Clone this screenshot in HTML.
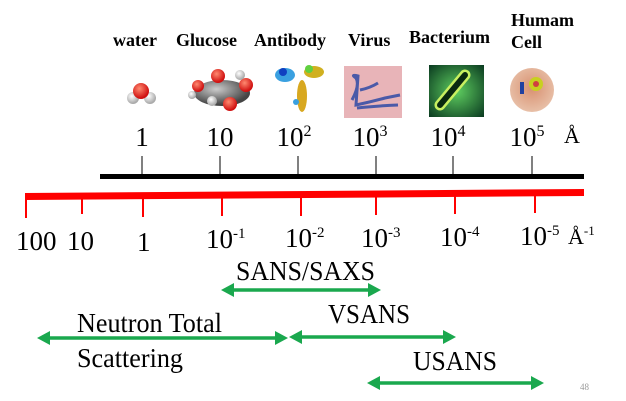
<!DOCTYPE html>
<html><head><meta charset="utf-8"><style>
html,body{margin:0;padding:0;background:#fff;width:626px;height:401px;overflow:hidden}
svg text{font-family:"Liberation Serif","DejaVu Serif",serif !important;fill:#000}
.b{font-weight:bold;font-size:18px}
.n{font-size:27px}
</style></head><body>
<svg width="626" height="401" viewBox="0 0 626 401" xmlns="http://www.w3.org/2000/svg" font-family="Liberation Serif, serif">
<defs>
<radialGradient id="rw" cx="40%" cy="35%" r="60%"><stop offset="0" stop-color="#fff"/><stop offset="1" stop-color="#aaa"/></radialGradient>
<radialGradient id="rr" cx="40%" cy="35%" r="60%"><stop offset="0" stop-color="#ff8a70"/><stop offset="1" stop-color="#d01010"/></radialGradient>
<radialGradient id="rg" cx="40%" cy="35%" r="60%"><stop offset="0" stop-color="#ccc"/><stop offset="1" stop-color="#444"/></radialGradient>
<radialGradient id="bac" cx="50%" cy="50%" r="70%"><stop offset="0" stop-color="#5fcf60"/><stop offset="1" stop-color="#0a3a20"/></radialGradient>
<radialGradient id="cell" cx="50%" cy="45%" r="55%"><stop offset="0" stop-color="#d89070"/><stop offset="1" stop-color="#e8c0a8"/></radialGradient>
</defs>
<text class="b" x="113" y="46" font-family="Liberation Serif, serif">water</text>
<text class="b" x="176" y="46" font-family="Liberation Serif, serif">Glucose</text>
<text class="b" x="254" y="46" font-family="Liberation Serif, serif">Antibody</text>
<text class="b" x="348" y="46" font-family="Liberation Serif, serif">Virus</text>
<text class="b" x="409" y="43" font-family="Liberation Serif, serif">Bacterium</text>
<text class="b" x="511" y="26" font-family="Liberation Serif, serif">Humam</text>
<text class="b" x="511" y="48" font-family="Liberation Serif, serif">Cell</text>
<circle cx="133" cy="98" r="6" fill="url(#rw)"/><circle cx="150" cy="98" r="6" fill="url(#rw)"/>
<circle cx="141" cy="91" r="8" fill="url(#rr)"/>
<ellipse cx="222" cy="93" rx="28" ry="13" fill="url(#rg)"/>
<circle cx="218" cy="76" r="7" fill="url(#rr)"/><circle cx="246" cy="85" r="7" fill="url(#rr)"/>
<circle cx="198" cy="86" r="6" fill="url(#rr)"/><circle cx="230" cy="104" r="7" fill="url(#rr)"/>
<circle cx="212" cy="101" r="5" fill="url(#rw)"/><circle cx="240" cy="75" r="5" fill="url(#rw)"/><circle cx="192" cy="95" r="4" fill="url(#rw)"/>
<ellipse cx="285" cy="75" rx="10" ry="7" fill="#3aa0e0"/><circle cx="283" cy="72" r="4" fill="#1040c0"/>
<ellipse cx="314" cy="72" rx="10" ry="6" fill="#d0b020"/><circle cx="309" cy="69" r="4" fill="#60d040"/>
<ellipse cx="302" cy="96" rx="5" ry="16" fill="#d8a820"/><circle cx="296" cy="102" r="3" fill="#3aa0e0"/>
<rect x="344" y="66" width="58" height="52" fill="#e8b4b8"/>
<path d="M352 100 Q360 85 356 78 Q350 74 358 76 L356 105 Q370 102 385 98 Q395 96 400 95 M357 108 Q375 106 398 105 M360 90 Q370 88 378 83" stroke="#4a5aa8" stroke-width="3" fill="none"/>
<rect x="429" y="65" width="55" height="52" fill="url(#bac)"/>
<line x1="440" y1="105" x2="465" y2="75" stroke="#c8f060" stroke-width="11" stroke-linecap="round"/>
<line x1="440" y1="105" x2="465" y2="75" stroke="#0a2a10" stroke-width="6" stroke-linecap="round"/>
<ellipse cx="532" cy="90" rx="22" ry="22" fill="url(#cell)"/>
<circle cx="536" cy="84" r="7" fill="#c8d020"/><circle cx="536" cy="84" r="3" fill="#d04040"/>
<rect x="520" y="82" width="4" height="12" fill="#2040a0"/>
<g font-family="Liberation Serif, serif">
<text class="n" x="142" y="146" text-anchor="middle">1</text>
<text class="n" x="220" y="146" text-anchor="middle">10</text>
<text class="n" x="294" y="146" text-anchor="middle">10<tspan font-size="16" dy="-10">2</tspan></text>
<text class="n" x="370" y="146" text-anchor="middle">10<tspan font-size="16" dy="-10">3</tspan></text>
<text class="n" x="448" y="146" text-anchor="middle">10<tspan font-size="16" dy="-10">4</tspan></text>
<text class="n" x="527" y="146" text-anchor="middle">10<tspan font-size="16" dy="-10">5</tspan></text>
<text x="564" y="143" font-size="22">Å</text>
</g>
<g stroke="#555" stroke-width="1.5">
<line x1="142" y1="156" x2="142" y2="176"/><line x1="220" y1="156" x2="220" y2="176"/><line x1="298" y1="156" x2="298" y2="176"/>
<line x1="376" y1="156" x2="376" y2="176"/><line x1="453" y1="156" x2="453" y2="176"/><line x1="532" y1="156" x2="532" y2="176"/>
</g>
<rect x="100" y="174" width="484" height="5" fill="#000"/>
<polygon points="25,193 584,189 584,196 25,200" fill="#f00"/>
<g stroke="#f00" stroke-width="2">
<line x1="26" y1="198" x2="26" y2="218"/><line x1="82" y1="198" x2="82" y2="214"/><line x1="143" y1="198" x2="143" y2="217"/>
<line x1="222" y1="197" x2="222" y2="216"/><line x1="301" y1="196" x2="301" y2="216"/><line x1="376" y1="195" x2="376" y2="215"/>
<line x1="455" y1="195" x2="455" y2="214"/><line x1="535" y1="194" x2="535" y2="213"/>
</g>
<g font-family="Liberation Serif, serif">
<text class="n" x="16" y="250">100</text>
<text class="n" x="67" y="250">10</text>
<text class="n" x="137" y="251">1</text>
<text class="n" x="206" y="248">10<tspan font-size="15" dy="-10">-1</tspan></text>
<text class="n" x="285" y="247">10<tspan font-size="15" dy="-10">-2</tspan></text>
<text class="n" x="361" y="247">10<tspan font-size="15" dy="-10">-3</tspan></text>
<text class="n" x="440" y="246">10<tspan font-size="15" dy="-10">-4</tspan></text>
<text class="n" x="520" y="245">10<tspan font-size="15" dy="-10">-5</tspan></text>
<text x="568" y="244" font-size="22">Å<tspan font-size="13" dy="-9">-1</tspan></text>
<text class="n" x="236" y="280" textLength="139" lengthAdjust="spacingAndGlyphs">SANS/SAXS</text>
<text class="n" x="77" y="332" textLength="145" lengthAdjust="spacingAndGlyphs">Neutron Total</text>
<text class="n" x="77" y="367" textLength="106" lengthAdjust="spacingAndGlyphs">Scattering</text>
<text class="n" x="328" y="323" textLength="82" lengthAdjust="spacingAndGlyphs">VSANS</text>
<text class="n" x="413" y="370" textLength="84" lengthAdjust="spacingAndGlyphs">USANS</text>
<text x="580" y="390" font-size="9" style="fill:#999">48</text>
</g>
<g fill="#1aa84e" stroke="#1aa84e" stroke-width="3.5">
<line x1="230" y1="290" x2="372" y2="290"/>
<polygon stroke="none" points="221,290 234,283 234,297"/><polygon stroke="none" points="381,290 368,283 368,297"/>
<line x1="46" y1="338" x2="280" y2="338"/>
<polygon stroke="none" points="37,338 50,331 50,345"/><polygon stroke="none" points="288,338 275,331 275,345"/>
<line x1="298" y1="337" x2="447" y2="337"/>
<polygon stroke="none" points="289,337 302,330 302,344"/><polygon stroke="none" points="456,337 443,330 443,344"/>
<line x1="376" y1="383" x2="535" y2="383"/>
<polygon stroke="none" points="367,383 380,376 380,390"/><polygon stroke="none" points="544,383 531,376 531,390"/>
</g>
</svg>
</body></html>
